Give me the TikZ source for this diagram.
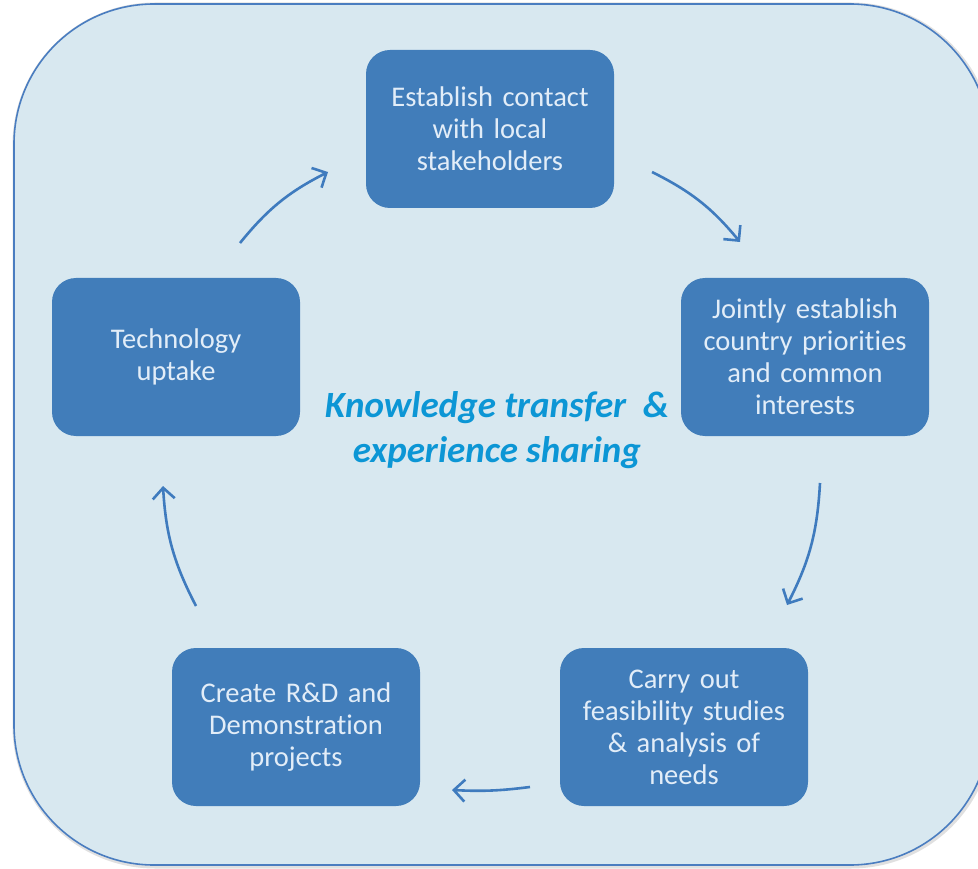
\documentclass[tikz,border=0pt]{standalone}
\usepackage{fontspec}
\setmainfont{Carlito}[Ligatures=NoCommon]
\usetikzlibrary{arrows.meta}
\definecolor{bgfill}{HTML}{D8E8F0}
\definecolor{bgline}{HTML}{4A7DC0}
\definecolor{boxfill}{HTML}{417DBA}
\definecolor{boxtext}{HTML}{E2EDF8}
\definecolor{arrowc}{HTML}{3F7BBE}
\definecolor{centertext}{HTML}{0C96D5}
\begin{document}
\begin{tikzpicture}[x=1pt,y=-1pt,
  stepbox/.style={draw=none, fill=boxfill, rounded corners=24pt,
    minimum width=248pt, minimum height=158pt, text width=236pt, align=center,
    text=boxtext, font=\fontsize{28.5}{32}\selectfont},
  cyc/.style={draw=arrowc, line width=2.6pt, -{Straight Barb[length=11pt,width=22pt,line width=2.6pt]}},
  centerlbl/.style={align=center, text=centertext, font=\fontsize{37}{45}\selectfont\bfseries\itshape}]
\useasboundingbox (0,0) rectangle (978,869);
\begin{scope}
\clip (0,0) rectangle (978,869);
\draw[black!12, line width=5pt, rounded corners=140pt] (15,5) rectangle (991,866);
\draw[fill=bgfill, draw=bgline, line width=1.6pt, rounded corners=140pt] (14,4) rectangle (990,865);
\end{scope}
\node[stepbox] (contact) at (490,129) {Establish contact\\with local\\stakeholders};
\node[stepbox] (prior) at (805,357) {Jointly establish\\country priorities\\and common\\interests};
\node[stepbox] (feas) at (684,727) {Carry out\\feasibility studies\\\& analysis of\\needs};
\node[stepbox] (rd) at (296,727) {Create R\&D and\\Demonstration\\projects};
\node[stepbox] (uptake) at (176,357) {Technology\\uptake};
\node[centerlbl] (center) at (497,430) {Knowledge transfer~~\&\\experience sharing};
\coordinate (a1s) at (652,172); \coordinate (a1e) at (740,242);
\coordinate (a2s) at (820,483); \coordinate (a2e) at (787,605);
\coordinate (a3s) at (530,787); \coordinate (a3e) at (452,790);
\coordinate (a4s) at (196,606); \coordinate (a4e) at (163,486);
\coordinate (a5s) at (240,243); \coordinate (a5e) at (328,172);
\draw[cyc] (a1s) to[bend left=12] (a1e);
\draw[cyc] (a2s) to[bend left=12] (a2e);
\draw[cyc] (a3s) to[bend left=5] (a3e);
\draw[cyc] (a4s) to[bend left=12] (a4e);
\draw[cyc] (a5s) to[bend left=12] (a5e);
\end{tikzpicture}
\end{document}
